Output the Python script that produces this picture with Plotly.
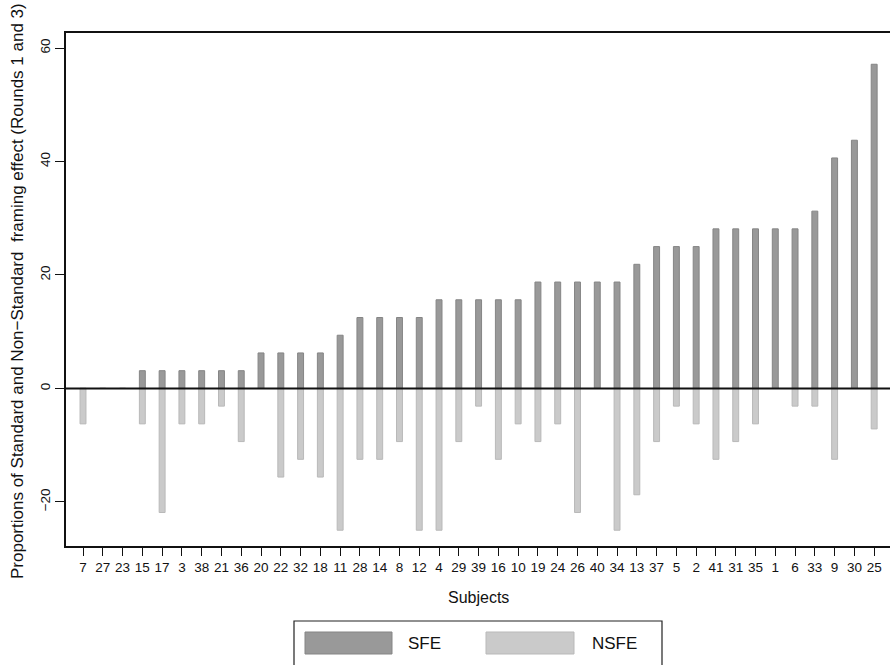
import plotly.graph_objects as go

# Subjects, ordered by standard framing effect
subjects = ["7", "27", "23", "15", "17", "3", "38", "21", "36", "20", "22", "32", "18", "11",
            "28", "14", "8", "12", "4", "29", "39", "16", "10", "19", "24", "26", "40", "34",
            "13", "37", "5", "2", "41", "31", "35", "1", "6", "33", "9", "30", "25"]

# Standard framing effect (SFE), percent
sfe = [0, 0, 0, 3.125, 3.125, 3.125, 3.125, 3.125, 3.125, 6.25, 6.25, 6.25, 6.25, 9.375,
       12.5, 12.5, 12.5, 12.5, 15.625, 15.625, 15.625, 15.625, 15.625, 18.75, 18.75, 18.75,
       18.75, 18.75, 21.875, 25, 25, 25, 28.125, 28.125, 28.125, 28.125, 28.125, 31.25,
       40.625, 43.75, 57.14]

# Non-standard framing effect (NSFE), percent (plotted downward)
nsfe = [-6.25, 0, 0, -6.25, -21.875, -6.25, -6.25, -3.125, -9.375, 0, -15.625, -12.5,
        -15.625, -25, -12.5, -12.5, -9.375, -25, -25, -9.375, -3.125, -12.5, -6.25, -9.375,
        -6.25, -21.875, 0, -25, -18.75, -9.375, -3.125, -6.25, -12.5, -9.375, -6.25, 0,
        -3.125, -3.125, -12.5, 0, -7.14]

y_ticks = [-20, 0, 20, 40, 60]

SFE_FILL, SFE_EDGE = "#999999", "#858585"
NSFE_FILL, NSFE_EDGE = "#cacaca", "#b9b9b9"
FONT = "Liberation Sans, Arial, Helvetica, sans-serif"

W, H = 890, 665
L, R, T, B = 66, 0, 33, 119
PW, PH = W - L - R, H - T - B


def px(x):
    return (x - L) / PW


def py(y):
    return (H - B - y) / PH


idx = list(range(len(subjects)))

fig = go.Figure()
fig.add_trace(go.Bar(x=idx, y=sfe, width=0.3, name="SFE",
                     marker=dict(color=SFE_FILL, line=dict(color=SFE_EDGE, width=1))))
fig.add_trace(go.Bar(x=idx, y=nsfe, width=0.3, name="NSFE",
                     marker=dict(color=NSFE_FILL, line=dict(color=NSFE_EDGE, width=1))))

# zero reference line
fig.add_shape(type="line", xref="paper", yref="y", x0=0, x1=1, y0=0, y1=0,
              line=dict(color="#111111", width=2), layer="above")

# legend box drawn below the plot
fig.add_shape(type="rect", xref="paper", yref="paper",
              x0=px(294), x1=px(662), y0=py(666), y1=py(621),
              line=dict(color="#222222", width=1.2), fillcolor="white")
for (x0, x1, fill, edge, label, tx) in [
        (305, 392, SFE_FILL, SFE_EDGE, "SFE", 406),
        (486, 574, NSFE_FILL, NSFE_EDGE, "NSFE", 590)]:
    fig.add_shape(type="rect", xref="paper", yref="paper",
                  x0=px(x0), x1=px(x1), y0=py(654), y1=py(632),
                  line=dict(color=edge, width=1), fillcolor=fill)
    fig.add_annotation(x=px(tx), y=py(643), xref="paper", yref="paper", text=label,
                       showarrow=False, xanchor="left", yanchor="middle",
                       font=dict(family=FONT, size=17, color="#111111"))

# axis titles
fig.add_annotation(x=px(478), y=py(597), xref="paper", yref="paper", text="Subjects",
                   showarrow=False, xanchor="center", yanchor="middle",
                   font=dict(family=FONT, size=16, color="#111111"))
fig.add_annotation(x=px(17), y=py(291), xref="paper", yref="paper", textangle=-90,
                   text="Proportions of Standard and Non\u2212Standard  framing effect (Rounds 1 and 3)",
                   showarrow=False, xanchor="center", yanchor="middle",
                   font=dict(family=FONT, size=17, color="#111111"))

fig.update_layout(
    width=W, height=H,
    margin=dict(l=L, r=R, t=T, b=B, pad=0),
    paper_bgcolor="white", plot_bgcolor="white",
    barmode="overlay", showlegend=False,
    font=dict(family=FONT, color="#111111"),
)
fig.update_xaxes(range=[-0.86, 40.8], tickvals=idx, ticktext=subjects,
                 showgrid=False, zeroline=False, showline=True, mirror=True,
                 linecolor="#111111", linewidth=1.5,
                 ticks="outside", ticklen=8, tickwidth=1.2, tickcolor="#111111",
                 tickfont=dict(family=FONT, size=13.5, color="#111111"))
fig.update_yaxes(range=[-27.78, 62.65], tickvals=y_ticks,
                 showgrid=False, zeroline=False, showline=True,
                 linecolor="#111111", linewidth=1.5,
                 ticks="outside", ticklen=9, tickwidth=1.2, tickcolor="#111111",
                 tickangle=-90,
                 tickfont=dict(family=FONT, size=13.5, color="#111111"))

fig.write_html("out.html")
